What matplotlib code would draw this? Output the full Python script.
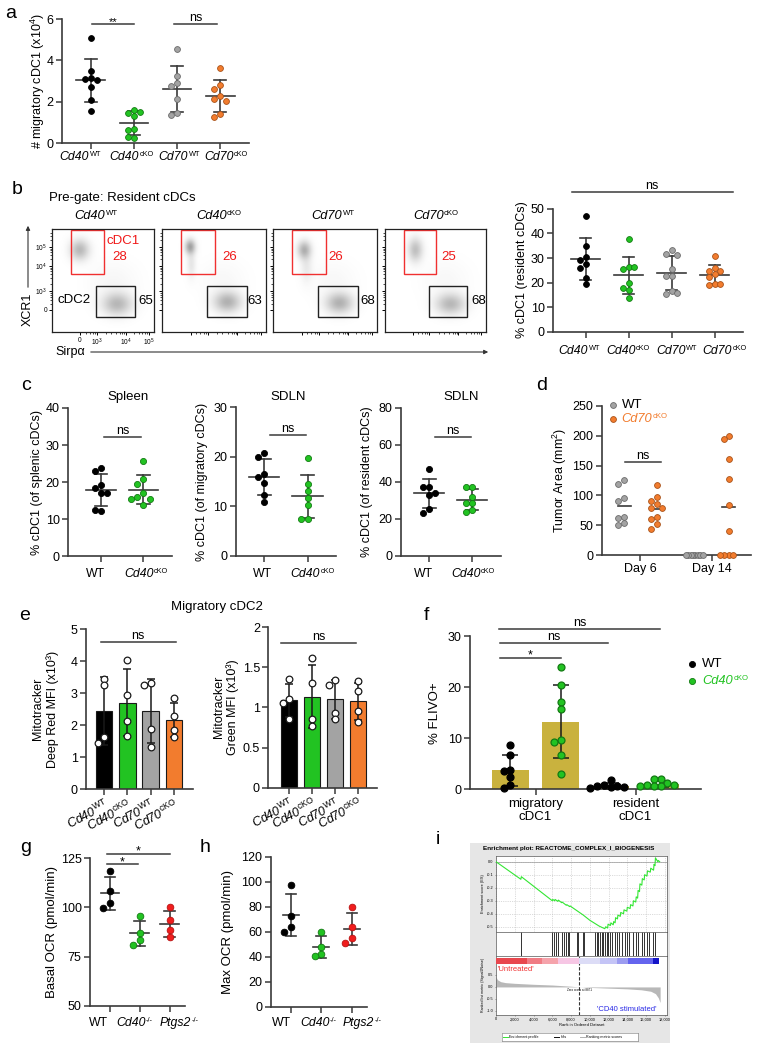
import numpy as np
import matplotlib
matplotlib.use('Agg')
import matplotlib.pyplot as plt
from matplotlib.patches import Rectangle, FancyArrowPatch
from matplotlib.colors import LinearSegmentedColormap
from matplotlib.offsetbox import TextArea, HPacker, AnnotationBbox

plt.rcParams['font.family'] = ['Liberation Sans', 'DejaVu Sans']
plt.rcParams['mathtext.fontset'] = 'custom'
plt.rcParams['mathtext.rm'] = 'Liberation Sans'
plt.rcParams['mathtext.it'] = 'Liberation Sans:italic'
plt.rcParams['mathtext.sf'] = 'Liberation Sans:italic'
plt.rcParams['mathtext.bf'] = 'Liberation Sans:bold'

# ---------------- data ----------------
GROUPS4 = [('Cd40', 'WT'), ('Cd40', 'cKO'), ('Cd70', 'WT'), ('Cd70', 'cKO')]
GROUPS_C = ['WT', ('Cd40', 'cKO')]
GROUPS_G = ['WT', ('Cd40', '-/-'), ('Ptgs2', '-/-')]

# a: migratory cDC1 (x10^4)
a_cd40_wt = [5.1, 3.5, 3.15, 3.1, 3.05, 2.7, 2.1, 1.55]
a_cd40_cko = [1.6, 1.45, 1.5, 1.3, 0.7, 0.65, 0.25, 0.28]
a_cd70_wt = [4.56, 3.22, 2.88, 2.74, 2.14, 1.46, 1.34]
a_cd70_cko = [3.64, 2.8, 2.59, 2.26, 2.11, 2.03, 1.39, 1.24]

# b: flow gates and % cDC1 of resident cDCs
flow_cdc1 = [28, 26, 26, 25]
flow_cdc2 = [65, 63, 68, 68]
b_cd40_wt = [47, 35, 30.5, 29, 27.5, 26, 22, 19.5]
b_cd40_cko = [37.8, 26.2, 25.4, 26.2, 19.7, 17.9, 17.1, 13.8]
b_cd70_wt = [33.2, 31.5, 31.2, 25.4, 22.8, 22.8, 16.5, 15.6, 15.9]
b_cd70_cko = [30.8, 25.9, 24.8, 24.6, 23.5, 22.2, 19.5, 18.9, 19.3]

# c
c_spleen_wt = [23.8, 22.9, 19.1, 18.4, 17.0, 17.0, 12.2, 12.4]
c_spleen_cko = [25.8, 20.9, 19.5, 17.0, 16.0, 15.5, 15.5, 13.9]
c_mig_wt = [20.8, 19.9, 16.6, 16.0, 14.7, 12.4, 10.8]
c_mig_cko = [19.8, 14.5, 13.2, 11.7, 10.2, 7.5, 7.5]
c_res_wt = [46.9, 37.1, 37.1, 34.1, 32.9, 25.2, 23.0]
c_res_cko = [37.4, 37.4, 32.0, 28.8, 28.8, 24.8, 23.9]

# d: tumor area
d_days = ['Day 6', 'Day 14']
d_day6_wt = [125.8, 119, 95.1, 90.6, 64.3, 61.6, 53.2, 50.3]
d_day6_cko = [117.4, 97.9, 90.6, 85.6, 78.3, 78.3, 63.3, 59.9, 52.0, 43.1]
d_day14_wt = [0, 0, 0, 0, 0, 0, 0, 0]
d_day14_cko = [200, 194, 161, 127.5, 84, 41, 0, 0, 0, 0]

# e: mitotracker (x10^3)
e_red_cd40_wt = [3.45, 3.25, 1.62, 1.45]
e_red_cd40_cko = [4.05, 2.95, 2.15, 1.67]
e_red_cd70_wt = [3.31, 3.26, 1.88, 1.33]
e_red_cd70_cko = [2.84, 2.3, 1.85, 1.65]
e_grn_cd40_wt = [1.35, 1.11, 1.05, 0.85]
e_grn_cd40_cko = [1.61, 1.3, 0.85, 0.77]
e_grn_cd70_wt = [1.34, 1.28, 0.93, 0.85]
e_grn_cd70_cko = [1.33, 1.2, 0.96, 0.82]

# f: % FLIVO+
f_mig_wt = [8.6, 6.8, 3.8, 3.5, 2.4, 0.9, 0.3]
f_mig_cko = [23.9, 20.45, 17.1, 15.8, 9.7, 9.3, 6.7, 3.0]
f_res_wt = [1.8, 0.85, 0.6, 0.55, 0.4, 0.4, 0.2]
f_res_cko = [1.95, 1.95, 1.2, 0.85, 0.85, 0.65, 0.65, 0.55]
f_cats = ['migratory\ncDC1', 'resident\ncDC1']

# g / h: OCR
g_wt = [118.7, 108.3, 102.3, 99.6]
g_cd40 = [95.6, 87.2, 83.6, 81.0]
g_ptgs2 = [100.0, 93.6, 88.5, 84.8]
h_wt = [97.3, 72.9, 63.8, 59.8]
h_cd40 = [59.8, 47.7, 42.4, 40.2]
h_ptgs2 = [79.6, 63.5, 55.0, 51.0]

# i: GSEA
ES_RANK = [0, 2650, 2700, 6000, 6050, 6250, 6300, 6600, 6650, 7000, 7050, 7500, 7550,
           7850, 7900, 9300, 10000, 11000, 11600, 11700, 11900, 11950, 12200, 12250,
           12500, 12550, 12700, 12750, 12950, 13000, 13250, 13300, 13600, 13650, 13950,
           14000, 14300, 14350, 14600, 14650, 14900, 14950, 15100, 15150, 15300, 15350,
           15550, 15600, 15800, 15850, 16100, 16150, 16450, 16500, 16800, 16850, 16950,
           17000, 17250, 17300, 17450]
ES_VAL = [0.0, -0.135, -0.115, -0.30, -0.29, -0.30, -0.29, -0.305, -0.295, -0.315, -0.31,
          -0.335, -0.33, -0.345, -0.34, -0.41, -0.45, -0.495, -0.515, -0.50, -0.51, -0.48,
          -0.49, -0.47, -0.485, -0.46, -0.47, -0.43, -0.44, -0.41, -0.42, -0.39, -0.40,
          -0.37, -0.38, -0.35, -0.36, -0.33, -0.34, -0.30, -0.31, -0.27, -0.28, -0.22,
          -0.23, -0.17, -0.18, -0.13, -0.14, -0.10, -0.11, -0.07, -0.08, -0.05, -0.065,
          -0.02, -0.03, 0.03, 0.0, 0.01, 0.0]
HITS = [2700, 6000, 6180, 6350, 6640, 6990, 7240, 7420, 7700, 7810, 8590, 8770, 9300,
        9370, 10540, 10720, 10900, 11080, 11250, 11430, 11610, 11790, 11960, 12140,
        12390, 12680, 12850, 13140, 13390, 13740, 13920, 14200, 14630, 14910, 15160,
        15520, 15760, 16050, 16330, 16760, 17000]
RANK_X = [0, 150, 500, 1000, 2000, 4000, 6000, 8000, 8871, 10000, 12000, 14000, 15500,
          16500, 17000, 17300, 17500]
RANK_Y = [0.42, 0.30, 0.22, 0.18, 0.15, 0.11, 0.08, 0.03, 0.0, -0.02, -0.05, -0.08,
          -0.12, -0.18, -0.28, -0.45, -0.65]
CB_EDGES = [0, 3270, 4860, 6640, 8880, 11080, 12850, 14100, 16760, 17400]
CB_COLORS = ['#e8474e', '#f07c84', '#f5a3ab', '#f6c6e4', '#dcdcf6', '#c4c4f6',
             '#9c9cf0', '#6464ee', '#1414c8']

# colours
BLACK, BLACK_E = '#000000', '#000000'
GREEN, GREEN_E = '#22c322', '#137a13'
GRAY, GRAY_E = '#a3a3a3', '#6b6b6b'
ORANGE, ORANGE_E = '#f27c2e', '#a8521a'
RED, RED_E = '#f01d1d', '#b81212'
GOLD = '#c9b23e'
LINE = '#3a3a3a'

W, H = 757, 1050
fig = plt.figure(figsize=(W / 100, H / 100), dpi=100)


def add_ax(l, t, r, b):
    return fig.add_axes([l / W, 1 - b / H, (r - l) / W, (b - t) / H])


def ftext(x, y, s, **kw):
    kw.setdefault('ha', 'center')
    kw.setdefault('va', 'center')
    return fig.text(x / W, 1 - y / H, s, **kw)


def glabel(x, y, lab, fs=8.8, color='black', ha='center'):
    # italic gene name with a small upright superscript
    if isinstance(lab, str):
        ftext(x, y, lab, fontsize=fs, color=color, ha=ha)
        return
    name, sup = lab
    t1 = TextArea(name, textprops=dict(fontsize=fs, fontstyle='italic', color=color))
    t2 = TextArea(sup, textprops=dict(fontsize=fs * 0.6, color=color))
    box = HPacker(children=[t1, t2], align='top', pad=0, sep=0.4)
    bx = 0.5 if ha == 'center' else 0.0
    fig.add_artist(AnnotationBbox(box, (x, H - y), xycoords='figure pixels',
                                  box_alignment=(bx, 0.5), frameon=False,
                                  annotation_clip=False))


def mlabel(lab):
    return r'$\mathsf{%s}^{\mathrm{%s}}$' % lab


def fdot(x, y, color, edge, ms=5):
    fig.add_artist(plt.Line2D([x / W], [1 - y / H], marker='o', ms=ms, mfc=color,
                              mec=edge, mew=0.6, ls='none', transform=fig.transFigure))


def style(ax, xlim, ylim, yticks, xticks=(), xtl=None, ytl=None, fs=9):
    ax.set_xlim(*xlim)
    ax.set_ylim(*ylim)
    for s in ('top', 'right'):
        ax.spines[s].set_visible(False)
    for s in ('left', 'bottom'):
        ax.spines[s].set_color(LINE)
        ax.spines[s].set_linewidth(1.2)
    ax.set_yticks(yticks)
    if ytl is not None:
        ax.set_yticklabels(ytl)
    xticks = list(xticks)
    ax.set_xticks(xticks)
    ax.set_xticklabels(list(xtl) if xtl is not None else [''] * len(xticks))
    ax.tick_params(direction='out', length=4, width=1.1, color=LINE, labelsize=fs, pad=2)
    ax.patch.set_alpha(0)


def swarm(ax, x, vals, d):
    p = ax.transData.transform(np.column_stack([np.full(len(vals), x), vals]))
    sx = ax.transData.transform([[1, 0]])[0, 0] - ax.transData.transform([[0, 0]])[0, 0]
    placed, offs = [], []
    for y in p[:, 1]:
        for k in range(60):
            c = ((k + 1) // 2) * d * (-1 if k % 2 else 1)
            if all((c - px) ** 2 + (y - py) ** 2 >= 0.9 * d * d for px, py in placed):
                break
        placed.append((c, y))
        offs.append(c / sx)
    return np.array(offs)


def dots(ax, x, vals, color, edge, ms=4.2, d=None, mean_w=0.67, cap_w=0.28, sd=True):
    vals = np.asarray(vals, float)
    offs = swarm(ax, x, vals, d if d else ms * 1.39)
    ax.plot(x + offs, vals, 'o', ms=ms, mfc=color, mec=edge, mew=0.6, zorder=4, clip_on=False)
    m = vals.mean()
    ax.plot([x - mean_w / 2, x + mean_w / 2], [m, m], color=LINE, lw=1.2, zorder=3)
    if sd:
        s = vals.std(ddof=1)
        ax.plot([x, x], [m - s, m + s], color=LINE, lw=1.2, zorder=3)
        for yy in (m - s, m + s):
            ax.plot([x - cap_w / 2, x + cap_w / 2], [yy, yy], color=LINE, lw=1.2, zorder=3)


def sig(ax, x0, x1, y, txt, fs=9):
    ax.plot([x0, x1], [y, y], color=LINE, lw=1.1, clip_on=False)
    if txt == 'ns':
        ax.annotate(txt, ((x0 + x1) / 2, y), xytext=(0, 0), textcoords='offset points',
                    ha='center', va='bottom', fontsize=fs, annotation_clip=False)
    else:
        ax.annotate(txt, ((x0 + x1) / 2, y), xytext=(0, 1.5), textcoords='offset points',
                    ha='center', va='center', fontsize=fs, annotation_clip=False)


def bars(ax, data, colors, pt_face, pt_edge, width, capsize, ms=4.8, d=6.5, edge='#1a1a1a'):
    for i, (vals, c) in enumerate(zip(data, colors)):
        vals = np.asarray(vals, float)
        m, s = vals.mean(), vals.std(ddof=1)
        ax.bar(i, m, width=width, color=c, edgecolor=edge, lw=0.8 if edge != 'none' else 0,
               zorder=2)
        ax.errorbar(i, m, yerr=s, fmt='none', ecolor='#1a1a1a', elinewidth=1.1,
                    capsize=capsize, capthick=1.1, zorder=3)
        pf = pt_face[i] if isinstance(pt_face, list) else pt_face
        pe = pt_edge[i] if isinstance(pt_edge, list) else pt_edge
        offs = swarm(ax, i, vals, d)
        ax.plot(i + offs, vals, 'o', ms=ms, mfc=pf, mec=pe, mew=0.9, zorder=4, clip_on=False)


def letter(x, y, s):
    ftext(x, y, s, fontsize=14)


# ---------------- a ----------------
letter(11, 14, 'a')
ax = add_ax(62, 19, 249, 143)
style(ax, (-0.67, 3.67), (0, 6), [0, 2, 4, 6], range(4))
for i, (v, c, e) in enumerate(zip([a_cd40_wt, a_cd40_cko, a_cd70_wt, a_cd70_cko],
                                  [BLACK, GREEN, GRAY, ORANGE],
                                  [BLACK_E, GREEN_E, GRAY_E, ORANGE_E])):
    dots(ax, i, v, c, e)
for x, lab in zip([80.5, 131.5, 179.5, 226], GROUPS4):
    glabel(x, 157.5, lab)
sig(ax, 0.02, 1.0, 5.76, '**', fs=8)
sig(ax, 1.93, 2.93, 5.76, 'ns')
ftext(38, 81, '# migratory cDC1 (x10$^4$)', rotation=90, fontsize=9)

# ---------------- b flow ----------------
letter(17, 190, 'b')
ftext(49, 198, 'Pre-gate: Resident cDCs', ha='left', fontsize=9.5)
FLOW_BOX = [(52, 154), (162, 266), (273, 377), (385, 486)]
FLOW_TITLE_X = [96, 219, 333, 436]
FLOW_NUM1_X = [119.5, 230, 336, 449]
FLOW_NUM2_X = [138, 247, 360, 471]
FLOW_CLUSTERS = [
    [(0.27, 0.80, 0.065, 0.07, 1.0), (0.64, 0.27, 0.10, 0.075, 1.0), (0.60, 0.48, 0.16, 0.14, 0.12)],
    [(0.27, 0.83, 0.035, 0.05, 1.3), (0.28, 0.66, 0.03, 0.09, 0.35), (0.63, 0.29, 0.09, 0.07, 1.1),
     (0.58, 0.50, 0.15, 0.13, 0.10)],
    [(0.30, 0.80, 0.045, 0.06, 1.1), (0.32, 0.63, 0.04, 0.10, 0.30), (0.64, 0.28, 0.09, 0.07, 1.1),
     (0.58, 0.50, 0.15, 0.13, 0.10)],
    [(0.30, 0.80, 0.05, 0.08, 0.9), (0.65, 0.27, 0.10, 0.07, 1.0), (0.60, 0.50, 0.16, 0.14, 0.10)],
]
FLOW_YT = [0.214, 0.398, 0.64, 0.825]
FLOW_XT = [0.275, 0.44, 0.725, 0.95]
FLOW_YMINOR = [0.27, 0.31, 0.34, 0.36, 0.38, 0.47, 0.52, 0.56, 0.59, 0.61, 0.62, 0.71,
               0.75, 0.78, 0.80, 0.81, 0.89, 0.93, 0.96]
FLOW_XMINOR = [0.33, 0.37, 0.40, 0.42, 0.53, 0.58, 0.63, 0.67, 0.69, 0.71, 0.80, 0.85,
               0.88, 0.91, 0.93]
gcmap = LinearSegmentedColormap.from_list('flow', ['#ffffff', '#3c3c3c'])
gx, gy = np.meshgrid(np.linspace(0, 1, 160), np.linspace(0, 1, 160))
for i, (l, r) in enumerate(FLOW_BOX):
    fx = add_ax(l, 229, r, 332)
    dens = np.zeros_like(gx)
    for cx, cy, sx_, sy_, w in FLOW_CLUSTERS[i]:
        dens += w * np.exp(-((gx - cx) ** 2 / (2 * sx_ ** 2) + (gy - cy) ** 2 / (2 * sy_ ** 2)))
    fx.imshow(dens, origin='lower', extent=(0, 1, 0, 1), cmap=gcmap, vmin=0, vmax=2.8,
              aspect='auto', interpolation='bilinear', zorder=0)
    fx.set_xlim(0, 1)
    fx.set_ylim(0, 1)
    for s in fx.spines.values():
        s.set_linewidth(0.9)
        s.set_color('#222222')
    fx.add_patch(Rectangle((0.185, 0.56), 0.32, 0.43, fill=False, ec='#f03030', lw=1.0))
    fx.add_patch(Rectangle((0.435, 0.145), 0.38, 0.30, fill=False, ec='#222222', lw=1.0))
    fx.set_yticks(FLOW_YT)
    fx.set_xticks(FLOW_XT)
    fx.set_yticks(FLOW_YMINOR, minor=True)
    fx.set_xticks(FLOW_XMINOR, minor=True)
    fx.tick_params(which='major', direction='out', length=2.5, width=0.7, labelsize=4.8, pad=1)
    fx.tick_params(which='minor', direction='out', length=1.2, width=0.5)
    if i == 0:
        fx.set_yticklabels(['0', '$10^3$', '$10^4$', '$10^5$'])
        fx.set_xticklabels(['0', '$10^3$', '$10^4$', '$10^5$'])
    else:
        fx.set_yticklabels([])
        fx.set_xticklabels([])
    glabel(FLOW_TITLE_X[i], 216, GROUPS4[i], fs=9.3)
    ftext(FLOW_NUM1_X[i], 257, str(flow_cdc1[i]), color='#f01818', fontsize=9.5)
    ftext(FLOW_NUM2_X[i], 301, str(flow_cdc2[i]), ha='left', fontsize=9.5)
ftext(123, 241, 'cDC1', color='#f01818', fontsize=9.5)
ftext(74, 300, 'cDC2', fontsize=9.5)
ftext(28, 309, 'XCR1', rotation=90, fontsize=9)
ftext(55, 352, 'Sirp\u03b1', ha='left', fontsize=9)
fig.add_artist(FancyArrowPatch((28 / W, 1 - 290 / H), (28 / W, 1 - 223 / H), arrowstyle='-|>',
                               mutation_scale=6, lw=0.8, color='#333333', transform=fig.transFigure))
fig.add_artist(FancyArrowPatch((88 / W, 1 - 352 / H), (491 / W, 1 - 352 / H), arrowstyle='-|>',
                               mutation_scale=6, lw=0.8, color='#333333', transform=fig.transFigure))

# ---------------- b right ----------------
ax = add_ax(553, 208.7, 743, 332)
style(ax, (-0.76, 3.66), (0, 50), [0, 10, 20, 30, 40, 50], range(4))
for i, (v, c, e) in enumerate(zip([b_cd40_wt, b_cd40_cko, b_cd70_wt, b_cd70_cko],
                                  [BLACK, GREEN, GRAY, ORANGE],
                                  [BLACK_E, GREEN_E, GRAY_E, ORANGE_E])):
    dots(ax, i, v, c, e, mean_w=0.66, cap_w=0.26)
for x, lab in zip([579.5, 628, 676.7, 724.7], GROUPS4):
    glabel(x, 351, lab)
sig(ax, -0.32, 3.42, 56.8, 'ns')
ftext(522, 270, '% cDC1 (resident cDCs)', rotation=90, fontsize=9)

# ---------------- c ----------------
letter(26, 386, 'c')
C_SPECS = [
    ((68, 408, 172, 556.3), (-0.77, 1.67), (0, 40), [0, 10, 20, 30, 40], c_spleen_wt, c_spleen_cko,
     'Spleen', 128, 37, '% cDC1 (of splenic cDCs)', (0.08, 0.94, 32.2), (95, 146)),
    ((235.7, 407.3, 335.7, 556), (-0.66, 1.65), (0, 30), [0, 10, 20, 30], c_mig_wt, c_mig_cko,
     'SDLN', 288, 202, '% cDC1 (of migratory cDCs)', (0.13, 0.96, 24.4), (262, 312.5)),
    ((401, 407.7, 501, 556), (-0.66, 1.67), (0, 80), [0, 20, 40, 60, 80], c_res_wt, c_res_cko,
     'SDLN', 461, 367, '% cDC1 (of resident cDCs)', (0.13, 0.97, 64), (423, 473)),
]
for box, xl, yl, yt, wt, ko, title, tx, lx, ylab, sg, labx in C_SPECS:
    ax = add_ax(*box)
    style(ax, xl, yl, yt, range(2))
    dots(ax, 0, wt, BLACK, BLACK_E, ms=4.4, mean_w=0.7, cap_w=0.29)
    dots(ax, 1, ko, GREEN, GREEN_E, ms=4.4, mean_w=0.7, cap_w=0.29)
    sig(ax, sg[0], sg[1], sg[2], 'ns')
    for x, lab in zip(labx, GROUPS_C):
        glabel(x, 574, lab)
    ftext(tx, 397, title, fontsize=9.5)
    ftext(lx, (box[1] + box[3]) / 2, ylab, rotation=90, fontsize=9)

# ---------------- d ----------------
letter(542, 385, 'd')
ax = add_ax(601.7, 406, 751, 555)
style(ax, (-0.53, 1.54), (0, 250), [0, 50, 100, 150, 200, 250], range(2), d_days)
dots(ax, -0.22, d_day6_wt, GRAY, GRAY_E, ms=4.2, mean_w=0.18, sd=False)
dots(ax, 0.23, d_day6_cko, ORANGE, ORANGE_E, ms=4.2, mean_w=0.18, sd=False)
dots(ax, 0.77, d_day14_wt, GRAY, GRAY_E, ms=4.2, d=2.4, mean_w=0.18, sd=False)
dots(ax, 1.23, d_day14_cko, ORANGE, ORANGE_E, ms=4.2, d=4.4, mean_w=0.18, sd=False)
sig(ax, -0.21, 0.29, 156.5, 'ns')
ftext(560, 480, 'Tumor Area (mm$^2$)', rotation=90, fontsize=9)
fdot(612.7, 405, GRAY, GRAY_E, ms=4.2)
ftext(621.7, 405, 'WT', ha='left', fontsize=9.5)
fdot(612.7, 419, ORANGE, ORANGE_E, ms=4.2)
glabel(621.7, 419, ('Cd70', 'cKO'), fs=9.3, color=ORANGE, ha='left')

# ---------------- e ----------------
letter(25, 615, 'e')
ftext(217, 607, 'Migratory cDC2', fontsize=9.5)
ax = add_ax(86, 629.3, 193.3, 789.3)
style(ax, (-0.77, 3.82), (0, 5), [0, 1, 2, 3, 4, 5], range(4), [mlabel(g) for g in GROUPS4])
bars(ax, [e_red_cd40_wt, e_red_cd40_cko, e_red_cd70_wt, e_red_cd70_cko],
     [BLACK, GREEN, GRAY, ORANGE], 'white', '#1a1a1a', width=0.71, capsize=3)
for t in ax.get_xticklabels():
    t.set_rotation(28)
    t.set_ha('right')
    t.set_rotation_mode('anchor')
sig(ax, -0.14, 3.06, 4.59, 'ns')
ftext(45.5, 709, 'Mitotracker\nDeep Red MFI (x10\u00b3)', rotation=90, fontsize=9,
      linespacing=1.15)

ax = add_ax(268.3, 627, 376.7, 787.7)
style(ax, (-0.9, 3.8), (0, 2), [0, 0.5, 1, 1.5, 2], range(4), [mlabel(g) for g in GROUPS4],
      ytl=['0', '0.5', '1', '1.5', '2'])
bars(ax, [e_grn_cd40_wt, e_grn_cd40_cko, e_grn_cd70_wt, e_grn_cd70_cko],
     [BLACK, GREEN, GRAY, ORANGE], 'white', '#1a1a1a', width=0.71, capsize=3)
for t in ax.get_xticklabels():
    t.set_rotation(28)
    t.set_ha('right')
    t.set_rotation_mode('anchor')
sig(ax, -0.35, 2.89, 1.80, 'ns')
ftext(226, 707, 'Mitotracker\nGreen MFI (x10\u00b3)', rotation=90, fontsize=9,
      linespacing=1.15)

# ---------------- f ----------------
letter(426, 616, 'f')
ax = add_ax(470, 636.3, 701, 789.3)
style(ax, (-0.81, 3.81), (0, 30), [0, 10, 20, 30], [0.5, 2.5], f_cats)
ax.tick_params(axis='x', labelsize=9.5)
bars(ax, [f_mig_wt, f_mig_cko, f_res_wt, f_res_cko], [GOLD] * 4,
     [BLACK, GREEN, BLACK, GREEN], [BLACK_E, GREEN_E, BLACK_E, GREEN_E],
     width=0.74, capsize=6, ms=5.0, d=6.8, edge='none')
sig(ax, -0.23, 2.99, 31.4, 'ns')
sig(ax, -0.21, 1.94, 28.7, 'ns')
sig(ax, -0.21, 1.0, 25.8, '*')
ftext(435, 713, '% FLIVO+', rotation=90, fontsize=9.5)
fdot(691.7, 664.3, BLACK, BLACK_E, ms=4.4)
ftext(702, 664.3, 'WT', ha='left', fontsize=9.5)
fdot(691.7, 681, GREEN, GREEN_E, ms=4.4)
glabel(702, 681, ('Cd40', 'cKO'), fs=9.3, color=GREEN, ha='left')

# ---------------- g ----------------
letter(26, 848, 'g')
ax = add_ax(90, 858.3, 185, 1005.7)
style(ax, (-0.67, 2.52), (50, 125), [50, 75, 100, 125], range(3))
for i, (v, c, e) in enumerate(zip([g_wt, g_cd40, g_ptgs2], [BLACK, GREEN, RED],
                                  [BLACK_E, GREEN_E, RED_E])):
    dots(ax, i, v, c, e, ms=4.8, mean_w=0.63, cap_w=0.36)
for x, lab in zip([98, 134.5, 179], GROUPS_G):
    glabel(x, 1022.7, lab)
sig(ax, -0.11, 0.95, 121.9, '*')
sig(ax, -0.11, 2.02, 127.2, '*')
ftext(52, 932, 'Basal OCR (pmol/min)', rotation=90, fontsize=9.5)

# ---------------- h ----------------
letter(205, 848, 'h')
ax = add_ax(270.7, 856.7, 366.7, 1006.7)
style(ax, (-0.66, 2.49), (0, 120), [0, 20, 40, 60, 80, 100, 120], range(3))
for i, (v, c, e) in enumerate(zip([h_wt, h_cd40, h_ptgs2], [BLACK, GREEN, RED],
                                  [BLACK_E, GREEN_E, RED_E])):
    dots(ax, i, v, c, e, ms=4.8, mean_w=0.52, cap_w=0.33)
for x, lab in zip([281, 318.5, 362.5], GROUPS_G):
    glabel(x, 1022.7, lab)
ftext(228, 932, 'Max OCR (pmol/min)', rotation=90, fontsize=9.5)

# ---------------- i ----------------
letter(438, 839, 'i')
fig.add_artist(Rectangle((470 / W, 1 - 1043 / H), 200 / W, 200 / H, transform=fig.transFigure,
                         facecolor='#e6e6e6', edgecolor='none', zorder=0))
ftext(569, 848.5, 'Enrichment plot: REACTOME_COMPLEX_I_BIOGENESIS', fontsize=4.6,
      fontweight='bold')
RANK_TICKS = list(range(0, 18001, 2000))
XMAX = 18200


def gsea_frame(a):
    for s in a.spines.values():
        s.set_linewidth(0.5)
        s.set_color('#555555')
    a.tick_params(length=1, width=0.4, labelsize=2.8, pad=0.8, color='#555555')


ax_es = add_ax(496, 856, 666.7, 931.7)
ax_es.plot(ES_RANK, ES_VAL, color='#33e633', lw=0.8, zorder=3)
ax_es.axhline(0, color='#9a9a9a', lw=0.5)
ax_es.set_xlim(0, XMAX)
ax_es.set_ylim(-0.538, 0.044)
ES_TICKS = [0.0, -0.1, -0.2, -0.3, -0.4, -0.5]
ax_es.set_yticks(ES_TICKS)
ax_es.set_yticklabels(['%.1f' % v for v in ES_TICKS])
ax_es.set_xticks(RANK_TICKS)
ax_es.set_xticklabels([])
ax_es.grid(True, ls=(0, (2, 2)), lw=0.4, color='#bdbdbd')
gsea_frame(ax_es)
ax_es.set_ylabel('Enrichment score (ES)', fontsize=2.8, labelpad=1.5)

ax_hits = add_ax(496, 931.7, 666.7, 956)
ax_hits.vlines(HITS, 0, 1, color='#111111', lw=0.6)
ax_hits.set_xlim(0, XMAX)
ax_hits.set_ylim(0, 1)
ax_hits.set_xticks([])
ax_hits.set_yticks([])
gsea_frame(ax_hits)

ax_rk = add_ax(496, 956, 666.7, 1015)
ax_rk.fill_between(RANK_X, RANK_Y, 0, color='#b8b8b8', lw=0)
ax_rk.axvline(8871, ls=(0, (3, 1.5)), color='#333333', lw=0.8)
ax_rk.set_xlim(0, XMAX)
ax_rk.set_ylim(-1.17, 1.29)
RK_TICKS = [0.5, 0.0, -0.5, -1.0]
ax_rk.set_yticks(RK_TICKS)
ax_rk.set_yticklabels(['%.1f' % v for v in RK_TICKS])
ax_rk.set_xticks(RANK_TICKS)
ax_rk.set_xticklabels(['{:,}'.format(v) for v in RANK_TICKS])
gsea_frame(ax_rk)
ax_rk.set_xlabel('Rank in Ordered Dataset', fontsize=3, labelpad=1)
ax_rk.set_ylabel('Ranked list metric (Signal2Noise)', fontsize=2.6, labelpad=1.5)
ax_rk.text(8871, -0.11, 'Zero cross at 8871', fontsize=2.2, ha='center', va='center')
ax_rk.text(150, 0.71, "'Untreated'", fontsize=5.5, color='#f03030', ha='left', va='center')
ax_rk.text(17150, -0.96, "'CD40 stimulated'", fontsize=5.5, color='#2a2ae6', ha='right',
           va='center')

ax_cb = add_ax(496, 957.5, 666.7, 963.7)
for e0, e1, c in zip(CB_EDGES[:-1], CB_EDGES[1:], CB_COLORS):
    ax_cb.axvspan(e0, e1, color=c, lw=0)
ax_cb.set_xlim(0, XMAX)
ax_cb.axis('off')

ax_lg = add_ax(501.7, 1033.3, 638.3, 1041)
ax_lg.set_xlim(0, 1)
ax_lg.set_ylim(0, 1)
ax_lg.set_xticks([])
ax_lg.set_yticks([])
for s in ax_lg.spines.values():
    s.set_linewidth(0.4)
    s.set_color('#777777')
LEG_ITEMS = [('Enrichment profile', '#33e633', 0.012), ('Hits', '#111111', 0.385),
             ('Ranking metric scores', '#b0b0b0', 0.573)]
for lab, c, x0 in LEG_ITEMS:
    ax_lg.plot([x0, x0 + 0.037], [0.5, 0.5], color=c, lw=0.7)
    ax_lg.text(x0 + 0.045, 0.5, lab, fontsize=2.6, va='center', ha='left')

fig.savefig('out.png', dpi=100)
